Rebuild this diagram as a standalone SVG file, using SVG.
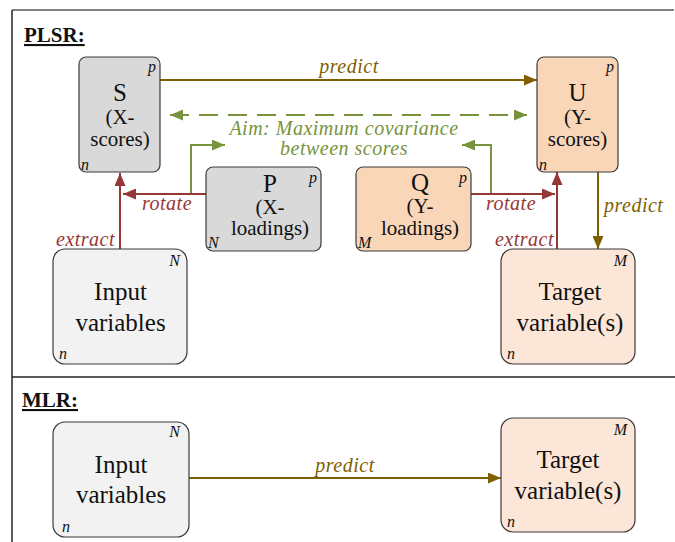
<svg xmlns="http://www.w3.org/2000/svg" width="675" height="542" viewBox="0 0 675 542" font-family="'Liberation Serif', 'DejaVu Serif', serif">
<style>
.box{stroke:#3a3a3a;stroke-width:1.2;}
.gray{fill:#d9d9d9;}
.light{fill:#f2f2f2;}
.peach{fill:#fad6b9;}
.lpeach{fill:#fbe6d8;}
.big{font-size:25px;text-anchor:middle;fill:#111;}
.mid{font-size:21px;text-anchor:middle;fill:#111;}
.corner{font-size:16px;font-style:italic;fill:#111;}
.lbl{font-size:20px;font-style:italic;letter-spacing:0.5px;}
.olive{stroke:#7f6000;fill:none;stroke-width:2;}
.red{stroke:#953735;fill:none;stroke-width:2;}
.green{stroke:#77933c;fill:none;stroke-width:2;}
.head{font-size:21px;font-weight:bold;text-decoration:underline;fill:#111;}
</style>
<defs>
<marker id="aO" markerUnits="userSpaceOnUse" markerWidth="13" markerHeight="11" refX="13" refY="5.5" orient="auto-start-reverse"><path d="M0,0 L13,5.5 L0,11 z" fill="#7f6000"/></marker>
<marker id="aR" markerUnits="userSpaceOnUse" markerWidth="13" markerHeight="11" refX="13" refY="5.5" orient="auto-start-reverse"><path d="M0,0 L13,5.5 L0,11 z" fill="#953735"/></marker>
<marker id="aG" markerUnits="userSpaceOnUse" markerWidth="13" markerHeight="11" refX="13" refY="5.5" orient="auto-start-reverse"><path d="M0,0 L13,5.5 L0,11 z" fill="#77933c"/></marker>
</defs>

<g id="frame">
<line x1="12" y1="10" x2="674" y2="10" stroke="#595959" stroke-width="1.5"/>
<line x1="12" y1="10" x2="12" y2="542" stroke="#222" stroke-width="1.5"/>
<line x1="12" y1="377" x2="675" y2="377" stroke="#222" stroke-width="1.5"/>
<text class="head" x="24" y="42">PLSR:</text>
<text class="head" x="22" y="407">MLR:</text>
</g>

<g id="connectors">
<line class="olive" x1="160" y1="80" x2="537" y2="80" marker-end="url(#aO)"/>
<line class="green" x1="170" y1="115" x2="527" y2="115" stroke-dasharray="19,10" marker-start="url(#aG)" marker-end="url(#aG)"/>
<polyline class="green" points="191,194 191,145 225,145" marker-end="url(#aG)"/>
<polyline class="green" points="491,194 491,145 462,145" marker-end="url(#aG)"/>
<line class="red" x1="206" y1="194" x2="123" y2="194" marker-end="url(#aR)"/>
<line class="red" x1="120" y1="249" x2="120" y2="173" marker-end="url(#aR)"/>
<line class="red" x1="471" y1="194" x2="555" y2="194" marker-end="url(#aR)"/>
<line class="red" x1="557" y1="249" x2="557" y2="172" marker-end="url(#aR)"/>
<line class="olive" x1="598" y1="172" x2="598" y2="249" marker-end="url(#aO)"/>
<line class="olive" x1="189" y1="478" x2="501" y2="478" marker-end="url(#aO)"/>
<text class="lbl" x="349" y="73" text-anchor="middle" fill="#7f6000">predict</text>
<text class="lbl" x="344" y="135" text-anchor="middle" fill="#77933c">Aim: Maximum covariance</text>
<text class="lbl" x="344" y="155" text-anchor="middle" fill="#77933c">between scores</text>
<text class="lbl" x="167" y="210" text-anchor="middle" fill="#953735">rotate</text>
<text class="lbl" x="115" y="246" text-anchor="end" fill="#953735">extract</text>
<text class="lbl" x="511" y="210" text-anchor="middle" fill="#953735">rotate</text>
<text class="lbl" x="554" y="246" text-anchor="end" fill="#953735">extract</text>
<text class="lbl" x="604" y="212" fill="#7f6000">predict</text>
<text class="lbl" x="345" y="472" text-anchor="middle" fill="#7f6000">predict</text>
</g>

<g id="S">
<rect class="box gray" x="79" y="57" width="81" height="115" rx="7"/>
<text class="big" x="120" y="101">S</text>
<text class="mid" x="120" y="124">(X-</text>
<text class="mid" x="120" y="146">scores)</text>
<text class="corner" x="156" y="72" text-anchor="end">p</text>
<text class="corner" x="81" y="170">n</text>
</g>

<g id="U">
<rect class="box peach" x="537" y="57" width="81" height="115" rx="7"/>
<text class="big" x="577.5" y="101">U</text>
<text class="mid" x="577.5" y="124">(Y-</text>
<text class="mid" x="577.5" y="146">scores)</text>
<text class="corner" x="614" y="72" text-anchor="end">p</text>
<text class="corner" x="539" y="170">n</text>
</g>

<g id="P">
<rect class="box gray" x="206" y="167" width="115" height="84" rx="7"/>
<text class="big" x="270" y="192">P</text>
<text class="mid" x="270" y="214">(X-</text>
<text class="mid" x="270" y="235">loadings)</text>
<text class="corner" x="317" y="183" text-anchor="end">p</text>
<text class="corner" x="208" y="248">N</text>
</g>

<g id="Q">
<rect class="box peach" x="356" y="167" width="115" height="84" rx="7"/>
<text class="big" x="420" y="191">Q</text>
<text class="mid" x="420" y="213">(Y-</text>
<text class="mid" x="420" y="235">loadings)</text>
<text class="corner" x="467" y="183" text-anchor="end">p</text>
<text class="corner" x="358" y="248">M</text>
</g>

<g id="inputPLSR">
<rect class="box light" x="53" y="249" width="134" height="115" rx="12"/>
<text class="big" x="120.5" y="300">Input</text>
<text class="big" x="120.5" y="331">variables</text>
<text class="corner" x="180" y="266" text-anchor="end">N</text>
<text class="corner" x="59" y="359">n</text>
</g>

<g id="targetPLSR">
<rect class="box lpeach" x="501" y="249" width="134" height="115" rx="12"/>
<text class="big" x="570" y="300">Target</text>
<text class="big" x="570" y="331">variable(s)</text>
<text class="corner" x="627" y="266" text-anchor="end">M</text>
<text class="corner" x="507" y="359">n</text>
</g>

<g id="inputMLR">
<rect class="box light" x="53" y="422" width="136" height="115" rx="12"/>
<text class="big" x="121" y="473">Input</text>
<text class="big" x="121" y="503">variables</text>
<text class="corner" x="180" y="437" text-anchor="end">N</text>
<text class="corner" x="62" y="532">n</text>
</g>

<g id="targetMLR">
<rect class="box lpeach" x="501" y="418" width="134" height="114" rx="12"/>
<text class="big" x="568" y="468">Target</text>
<text class="big" x="568" y="499">variable(s)</text>
<text class="corner" x="627" y="435" text-anchor="end">M</text>
<text class="corner" x="507" y="527">n</text>
</g>
</svg>
